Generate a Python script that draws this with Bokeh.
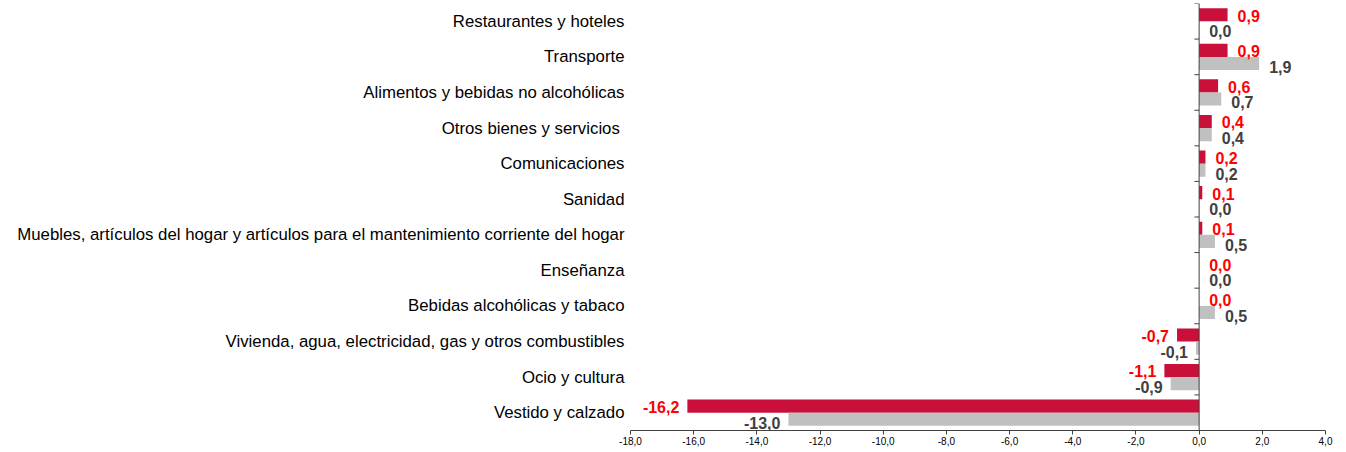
from bokeh.plotting import figure
from bokeh.models import ColumnDataSource, Range1d, FixedTicker, Span
from bokeh.core.properties import value
from bokeh.embed import file_html
from bokeh.resources import INLINE

categories = [
    "Restaurantes y hoteles",
    "Transporte",
    "Alimentos y bebidas no alcohólicas",
    "Otros bienes y servicios ",
    "Comunicaciones",
    "Sanidad",
    "Muebles, artículos del hogar y artículos para el mantenimiento corriente del hogar",
    "Enseñanza",
    "Bebidas alcohólicas y tabaco",
    "Vivienda, agua, electricidad, gas y otros combustibles",
    "Ocio y cultura",
    "Vestido y calzado",
]
serie_roja = [0.9, 0.9, 0.6, 0.4, 0.2, 0.1, 0.1, 0.0, 0.0, -0.7, -1.1, -16.2]
serie_gris = [0.0, 1.9, 0.7, 0.4, 0.2, 0.0, 0.5, 0.0, 0.5, -0.1, -0.9, -13.0]
x_ticks = [-18, -16, -14, -12, -10, -8, -6, -4, -2, 0, 2, 4]

RED = "#C8103A"
GRAY = "#C0C0C0"
FONT = "Liberation Sans"

n = len(categories)
idx = list(range(n))

def fmt(v):
    return ("%.1f" % v).replace(".", ",")

red_src = ColumnDataSource(dict(
    y=[i + 0.315 for i in idx], v=serie_roja,
    ty=[i + 0.34 for i in idx],
    label=[fmt(v) for v in serie_roja],
    align=["right" if v < 0 else "left" for v in serie_roja],
    off=[-8 if v < 0 else 10 for v in serie_roja],
))
gray_src = ColumnDataSource(dict(
    y=[i + 0.685 for i in idx], v=serie_gris,
    ty=[i + 0.78 for i in idx],
    label=[fmt(v) for v in serie_gris],
    align=["right" if v < 0 else "left" for v in serie_gris],
    off=[-8 if v < 0 else 10 for v in serie_gris],
))

p = figure(width=1346, height=452, output_backend="svg", toolbar_location=None,
           x_range=Range1d(-18, 4), y_range=Range1d(n, 0),
           min_border_left=630, min_border_right=21, min_border_top=3,
           min_border_bottom=22)
p.outline_line_color = None
p.xgrid.visible = False
p.ygrid.visible = False
p.background_fill_color = "white"
p.border_fill_color = "white"

p.hbar(y="y", right="v", left=0, height=0.37, source=red_src,
       fill_color=RED, line_color=None)
p.hbar(y="y", right="v", left=0, height=0.37, source=gray_src,
       fill_color=GRAY, line_color=None)

p.text(x="v", y="ty", text="label", source=red_src, text_align="align",
       x_offset="off", text_baseline="middle", text_font=value(FONT),
       text_font_size="16px", text_font_style="bold", text_color="#FF0000")
p.text(x="v", y="ty", text="label", source=gray_src, text_align="align",
       x_offset="off", text_baseline="middle", text_font=value(FONT),
       text_font_size="16px", text_font_style="bold", text_color="#404040")

# zero axis line and category boundary ticks
p.add_layout(Span(location=0, dimension="height", line_color="#404040", line_width=1))
bounds = list(range(n + 1))
p.segment(x0=[-0.15] * len(bounds), x1=[0] * len(bounds), y0=bounds, y1=bounds,
          line_color="#404040", line_width=1)

# x axis
xa = p.xaxis[0]
xa.ticker = FixedTicker(ticks=x_ticks)
xa.major_label_overrides = {t: fmt(t) for t in x_ticks}
xa.major_label_text_font = FONT
xa.major_label_text_font_size = "10px"
xa.major_label_text_color = "#000000"
xa.axis_line_color = "#404040"
xa.major_tick_line_color = "#404040"
xa.major_tick_out = 4
xa.major_tick_in = 0
xa.minor_tick_line_color = None
xa.major_label_standoff = 2

# y axis used for category names
ya = p.yaxis[0]
ya.ticker = FixedTicker(ticks=[i + 0.5 for i in idx])
ya.major_label_overrides = {i + 0.5: c for i, c in zip(idx, categories)}
ya.major_label_text_font = FONT
ya.major_label_text_font_size = "16.8px"
ya.major_label_text_color = "#000000"
ya.axis_line_color = None
ya.major_tick_line_color = None
ya.minor_tick_line_color = None
ya.major_label_standoff = 0

open("out.html", "w").write(file_html(p, INLINE))
